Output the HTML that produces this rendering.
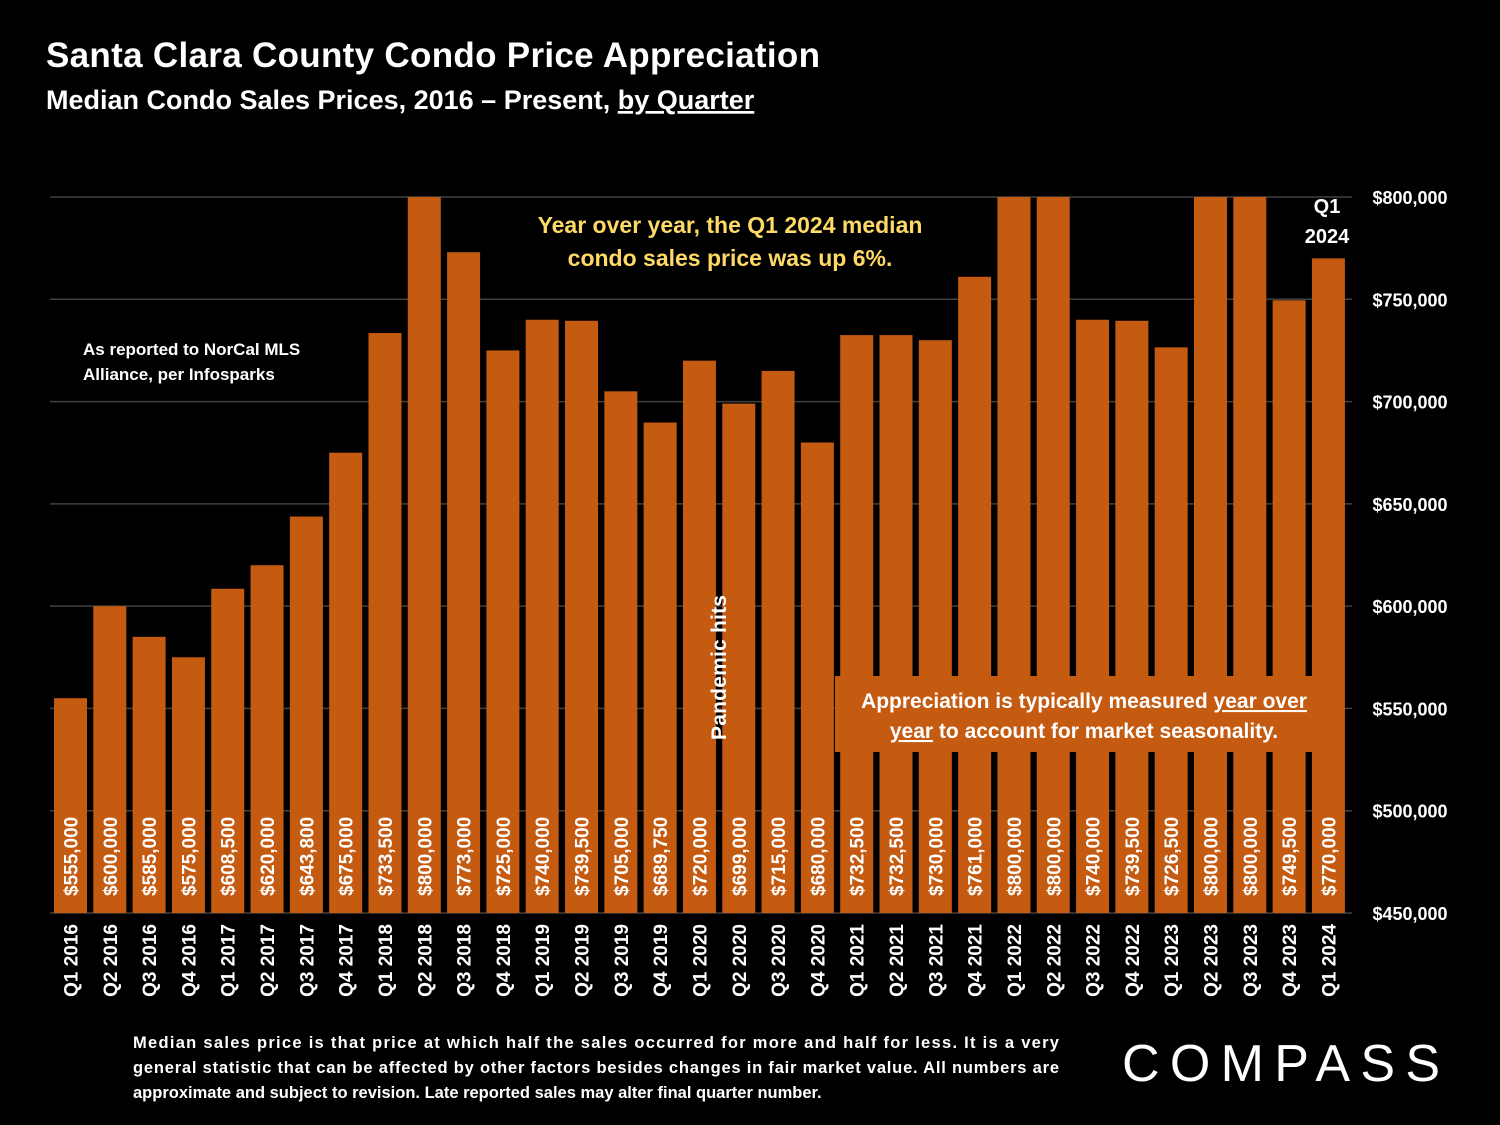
<!DOCTYPE html>
<html><head><meta charset="utf-8"><style>
body{margin:0;background:#000;width:1500px;height:1125px;overflow:hidden;font-family:"Liberation Sans",sans-serif}
</style></head><body>
<svg id="c" width="1500" height="1125" xmlns="http://www.w3.org/2000/svg" style="position:absolute;left:0;top:0">
<text x="46" y="67" fill="#fff" font-size="35" font-weight="bold" textLength="774">Santa Clara County Condo Price Appreciation</text>
<text x="46" y="109" fill="#fff" font-size="27" font-weight="bold">Median Condo Sales Prices, 2016 – Present, <tspan text-decoration="underline">by Quarter</tspan></text>
<g id="grid"></g><g id="bars"></g>
<text fill="#fff" font-size="17" font-weight="bold"><tspan x="83" y="355">As reported to NorCal MLS</tspan><tspan x="83" y="380">Alliance, per Infosparks</tspan></text>
<text fill="#FFD966" font-size="23" font-weight="bold" text-anchor="middle"><tspan x="730" y="233">Year over year, the Q1 2024 median</tspan><tspan x="730" y="266">condo sales price was up 6%.</tspan></text>
<text fill="#fff" font-size="20" font-weight="bold" text-anchor="middle"><tspan x="1327" y="213">Q1</tspan><tspan x="1327" y="243">2024</tspan></text>
<rect x="716" y="762" width="6" height="35" fill="#000"/>
<text transform="translate(726,740) rotate(-90)" fill="#fff" font-size="21" font-weight="bold" textLength="145">Pandemic hits</text>
<rect x="835" y="676" width="496" height="76" fill="#C55A11"/>
<text fill="#fff" font-size="21" font-weight="bold" text-anchor="middle"><tspan x="1084" y="708">Appreciation is typically measured <tspan text-decoration="underline">year over</tspan></tspan><tspan x="1084" y="738"><tspan text-decoration="underline">year</tspan> to account for market seasonality.</tspan></text>
<text fill="#fff" font-size="16.5" font-weight="bold"><tspan x="133" y="1048" textLength="926">Median sales price is that price at which half the sales occurred for more and half for less. It is a very</tspan><tspan x="133" y="1073" textLength="926">general statistic that can be affected by other factors besides changes in fair market value. All numbers are</tspan><tspan x="133" y="1098">approximate and subject to revision. Late reported sales may alter final quarter number.</tspan></text>
<text x="1122" y="1081" fill="#fff" font-size="52" textLength="318" lengthAdjust="spacing">COMPASS</text>
</svg>
<script>
const categories=["Q1 2016","Q2 2016","Q3 2016","Q4 2016","Q1 2017","Q2 2017","Q3 2017","Q4 2017","Q1 2018","Q2 2018","Q3 2018","Q4 2018","Q1 2019","Q2 2019","Q3 2019","Q4 2019","Q1 2020","Q2 2020","Q3 2020","Q4 2020","Q1 2021","Q2 2021","Q3 2021","Q4 2021","Q1 2022","Q2 2022","Q3 2022","Q4 2022","Q1 2023","Q2 2023","Q3 2023","Q4 2023","Q1 2024"];
const values=[555000,600000,585000,575000,608500,620000,643800,675000,733500,800000,773000,725000,740000,739500,705000,689750,720000,699000,715000,680000,732500,732500,730000,761000,800000,800000,740000,739500,726500,800000,800000,749500,770000];
const yTicks=[450000,500000,550000,600000,650000,700000,750000,800000];
const NS="http://www.w3.org/2000/svg";
const y0=913,y1=197,vMin=450000,vMax=800000;
const yScale=v=>y0-(v-vMin)/(vMax-vMin)*(y0-y1);
const x0=54,pitch=39.31,bw=33;
const xScale=i=>x0+i*pitch;
const fmt=v=>"$"+v.toLocaleString("en-US");
const grid=document.getElementById("grid"),bars=document.getElementById("bars");
function mk(t,a){const e=document.createElementNS(NS,t);for(const k in a)e.setAttribute(k,a[k]);return e;}
yTicks.forEach(t=>{
  const y=yScale(t);
  const l=mk("line",{x1:50,x2:1352,y1:y,y2:y,stroke:"#404040","stroke-width":1.5});
  
  
  grid.appendChild(l);
  const tx=mk("text",{x:1410,y:y+7,fill:"#fff","font-size":18,"font-weight":"bold","text-anchor":"middle"});
  
  
  tx.textContent=fmt(t);grid.appendChild(tx);
});
values.forEach((v,i)=>{
  const x=xScale(i),y=yScale(v);
  const r=mk("rect",{x:x,y:y,width:bw,height:y0-y,fill:"#C55A11"});
  
  
  bars.appendChild(r);
  const cx=x+bw/2+7;
  const lb=mk("text",{transform:`translate(${cx},896) rotate(-90)`,fill:"#fff","font-size":19,"font-weight":"bold"});
  
  
  lb.textContent=fmt(v);bars.appendChild(lb);
  const xl=mk("text",{transform:`translate(${cx},924) rotate(-90)`,fill:"#fff","font-size":19,"font-weight":"bold","text-anchor":"end"});
  
  
  xl.textContent=categories[i];bars.appendChild(xl);
});
</script>
</body></html>
